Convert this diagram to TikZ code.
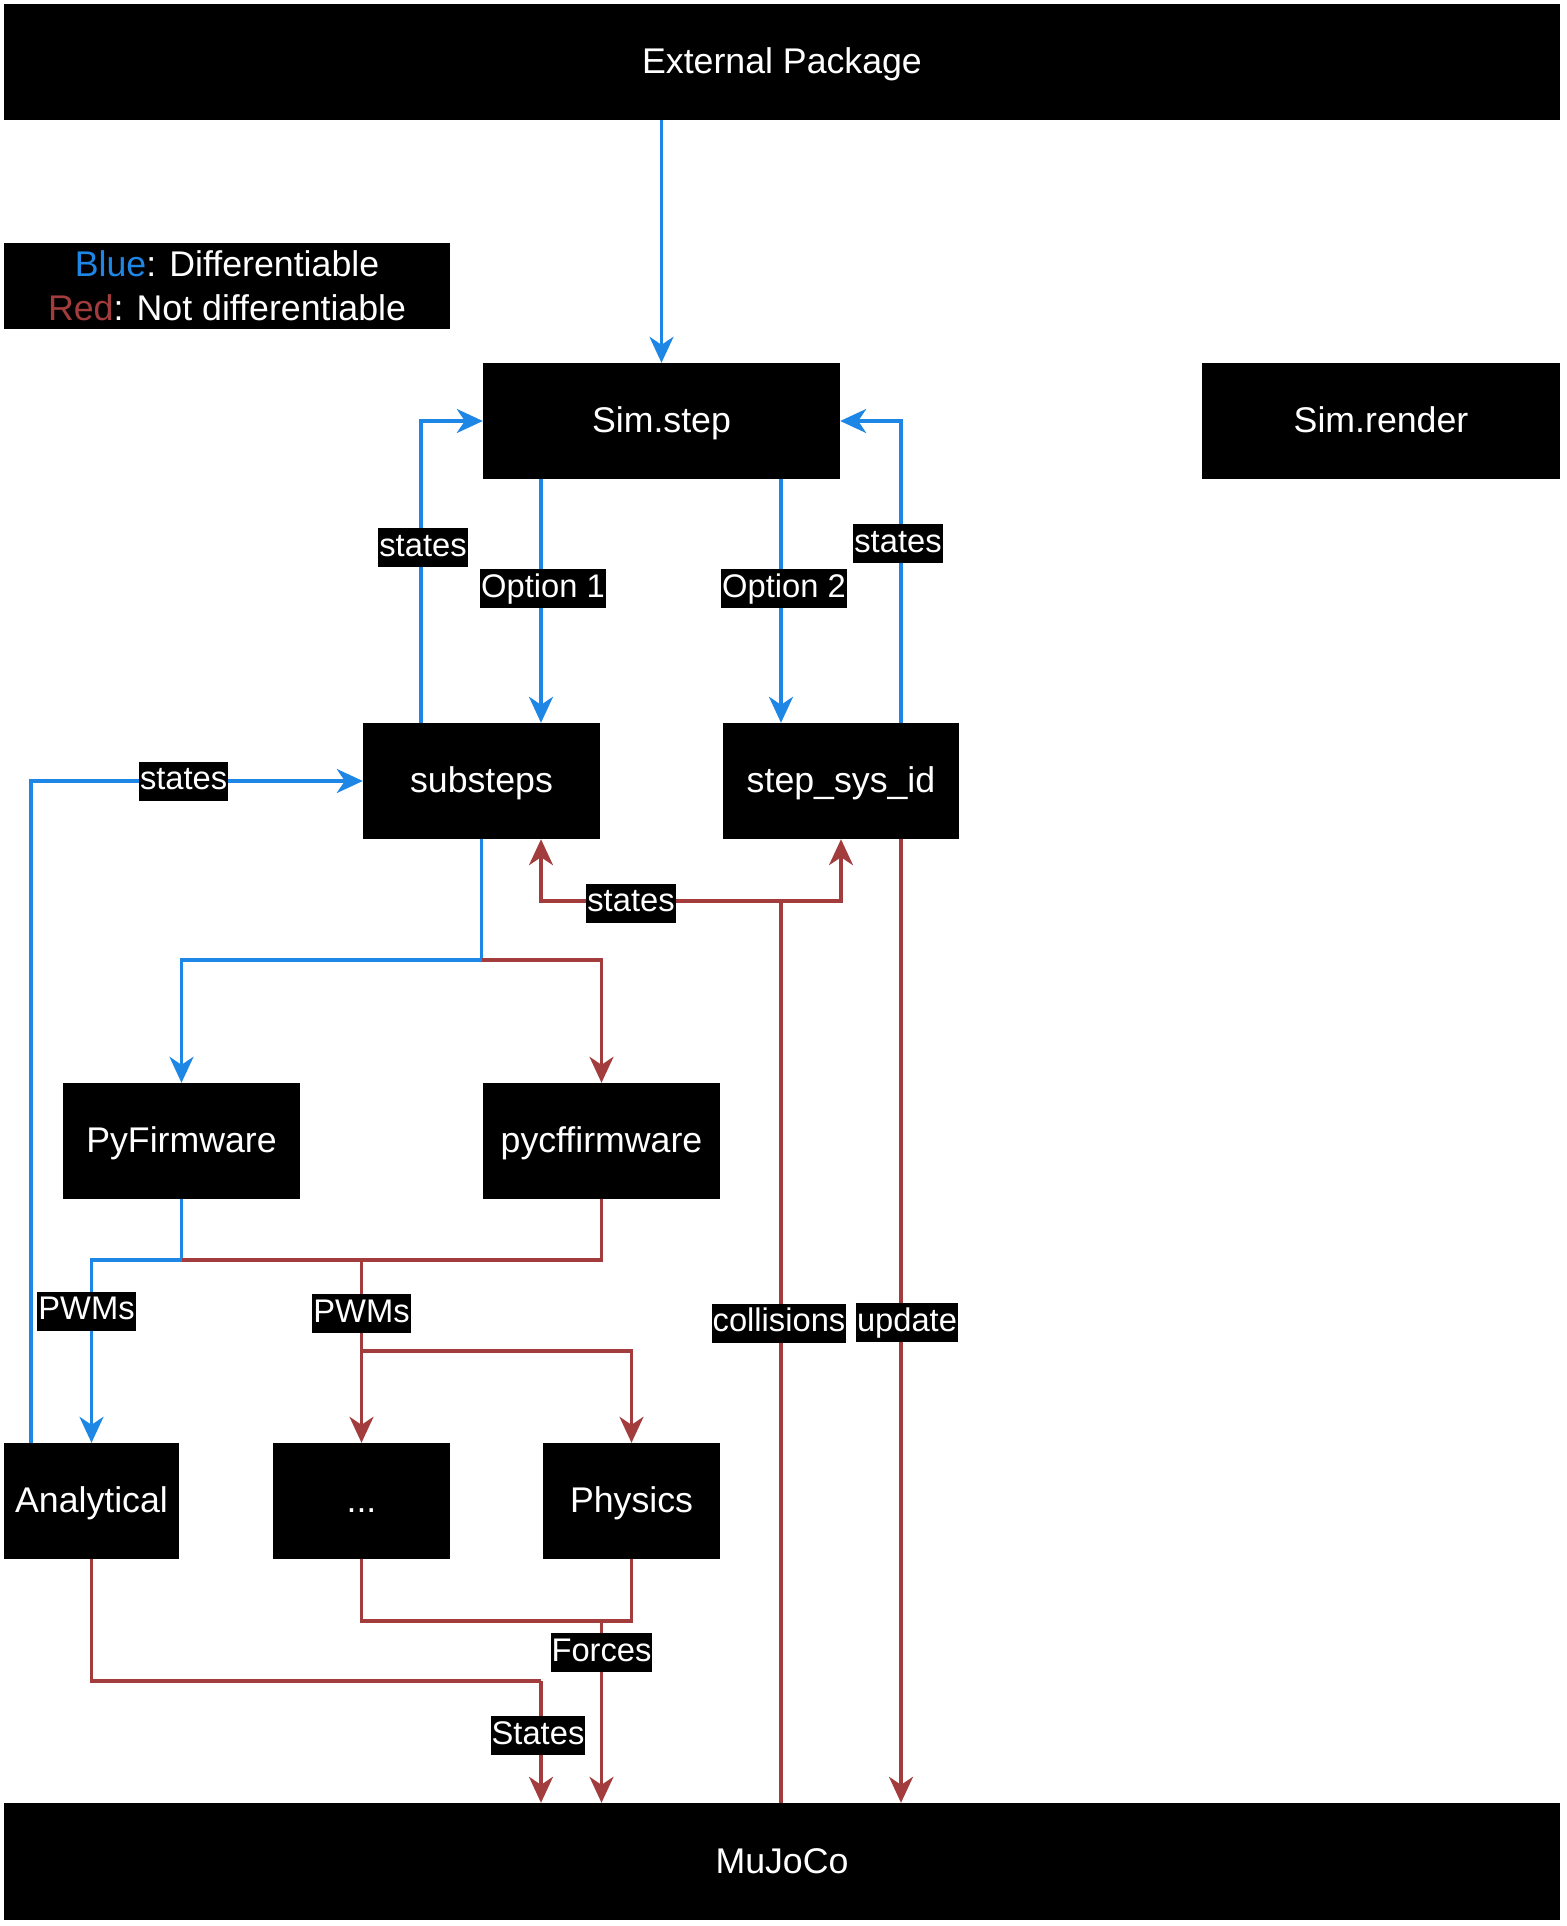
\documentclass[tikz,border=0pt]{standalone}
\usepackage{fontspec}
\setmainfont{Liberation Sans}
\usetikzlibrary{arrows.meta}
\definecolor{diffblue}{HTML}{1E86E5}
\definecolor{ndred}{HTML}{A33C3C}
\begin{document}
\begin{tikzpicture}[x=1pt,y=-1pt,
  blk/.style={fill=black,text=white,inner sep=0pt,minimum height=116,
    font=\fontsize{35.7}{43}\selectfont,text height=31pt,text depth=8pt},
  lbl/.style={fill=black,text=white,inner xsep=1pt,inner ysep=3pt,
    font=\fontsize{32.7}{39}\selectfont,text height=25pt,text depth=8pt},
  wire/.style={line width=3.2pt},
  bl/.style={wire,draw=diffblue},
  rd/.style={wire,draw=ndred},
  >={Stealth[length=26pt,width=24pt,inset=8pt]}]
\useasboundingbox (0,0) rectangle (1566,1926);

% blocks
\node[blk,minimum width=1556] (ext) at (782,62) {External Package};
\node[blk,minimum width=446,minimum height=86,align=center,
  font=\fontsize{35.7}{44}\selectfont,text height=,text depth=] (legend) at (227,286)
  {\textcolor{diffblue}{Blue}: Differentiable\\\textcolor{ndred}{Red}: Not differentiable};
\node[blk,minimum width=357] (simstep) at (661.5,421) {Sim.step};
\node[blk,minimum width=358] (render) at (1381,421) {Sim.render};
\node[blk,minimum width=237] (substeps) at (481.5,781) {substeps};
\node[blk,minimum width=236] (sysid) at (841,781) {step\_sys\_id};
\node[blk,minimum width=237] (pyfw) at (181.5,1141) {PyFirmware};
\node[blk,minimum width=237] (pycf) at (601.5,1141) {pycffirmware};
\node[blk,minimum width=175] (analytical) at (91.5,1501) {Analytical};
\node[blk,minimum width=177] (dots) at (361.5,1501) {...};
\node[blk,minimum width=177] (physics) at (631.5,1501) {Physics};
\node[blk,minimum width=1556,minimum height=117] (mujoco) at (782,1861.5) {MuJoCo};

% junction points
\coordinate (jc) at (781,901);
\coordinate (js) at (481.5,960);
\coordinate (jp) at (181.5,1260);
\coordinate (jr) at (361.5,1260);
\coordinate (jd) at (361.5,1351);
\coordinate (ja) at (541,1681);
\coordinate (jf) at (601.5,1621);

% differentiable (blue) connectors
\draw[bl,->] (ext.south -| simstep.north) -- (simstep.north);
\draw[bl,->] ([xshift=-60.5]substeps.north) |- node[lbl,pos=0.29,xshift=2]{states} (simstep.west);
\draw[bl,->] ([xshift=-120.5]simstep.south) -- node[lbl,pos=0.45,xshift=2]{Option 1} ([xshift=59.5]substeps.north);
\draw[bl,->] ([xshift=119.5]simstep.south) -- node[lbl,pos=0.45,xshift=3]{Option 2} ([xshift=-60]sysid.north);
\draw[bl,->] ([xshift=60]sysid.north) |- node[lbl,pos=0.297,xshift=-3]{states} (simstep.east);
\draw[bl,->] ([xshift=-60.5]analytical.north) |- node[lbl,pos=0.73]{states} (substeps.west);
\draw[bl] (substeps.south) -- (js);
\draw[bl,->] (js) -| (pyfw.north);
\draw[bl] (pyfw.south) -- (jp);
\draw[bl,->] (jp) -| node[lbl,pos=0.64,xshift=-5]{PWMs} (analytical.north);

% non-differentiable (red) connectors
\draw[rd,->] (js) -| (pycf.north);
\draw[rd] (jp) -- (jr);
\draw[rd] (pycf.south) |- (jr);
\draw[rd] (jr) -- node[lbl,pos=0.59]{PWMs} (jd);
\draw[rd,->] (jd) -- (dots.north);
\draw[rd,->] (jd) -| (physics.north);
\draw[rd] (mujoco.north -| jc) -- node[lbl,pos=0.532,xshift=-2]{collisions} (jc);
\draw[rd,->] (jc) -| node[lbl,pos=0.3125,yshift=-2]{states} ([xshift=59.5]substeps.south);
\draw[rd,->] (jc) -| (sysid.south);
\draw[rd,->] ([xshift=60]sysid.south) -- node[lbl,pos=0.502,xshift=6]{update} (mujoco.north -| 901,0);
\draw[rd] (analytical.south) |- (ja);
\draw[rd,->] (ja) -- node[lbl,pos=0.45,xshift=-3]{States} (mujoco.north -| ja);
\draw[rd] (dots.south) |- (jf -| physics.south) -- (physics.south);
\draw[rd,->] (jf) -- node[lbl,pos=0.175]{Forces} (mujoco.north -| jf);
\end{tikzpicture}
\end{document}
